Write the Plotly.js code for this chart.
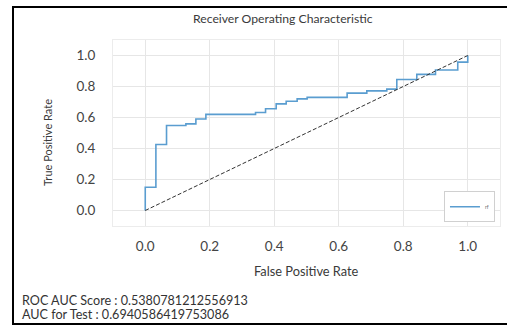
<!DOCTYPE html>
<html>
<head>
<meta charset="utf-8">
<script src="https://cdn.plot.ly/plotly-3.0.1.min.js"></script>
<style>
html,body{margin:0;padding:0;background:#fff;overflow:hidden;}
#chart{width:507px;height:325px;position:absolute;left:0;top:0;}
#frame{position:absolute;left:12px;top:6px;width:520px;height:315px;border-left:2px solid #000;border-top:2px solid #000;border-bottom:2px solid #000;pointer-events:none;}
</style>
</head>
<body>
<div id="chart"></div>
<div id="frame"></div>
<script>
// ROC curve corner points (step drawn horizontal-then-vertical)
const fpr = [0, 0, 0.033, 0.066, 0.126, 0.157, 0.188, 0.342, 0.373, 0.406, 0.437, 0.471, 0.502, 0.626, 0.687, 0.749, 0.78, 0.842, 0.9, 0.969, 1.0];
const tpr = [0, 0.15, 0.426, 0.548, 0.559, 0.59, 0.62, 0.632, 0.656, 0.688, 0.705, 0.72, 0.73, 0.757, 0.772, 0.783, 0.845, 0.878, 0.906, 0.957, 1.0];
const diagX = [0, 1];
const diagY = [0, 1];
const tickVals = [0, 0.2, 0.4, 0.6, 0.8, 1.0];
const tickText = ['0.0', '0.2', '0.4', '0.6', '0.8', '1.0'];
const seriesName = 'rf';
const chartTitle = 'Receiver Operating Characteristic';
const xTitle = 'False Positive Rate';
const yTitle = 'True Positive Rate';
const scoreLines = ['ROC AUC Score : 0.5380781212556913', 'AUC for Test : 0.6940586419753086'];

const FONT = 'Lato, "Open Sans", sans-serif';

const traces = [
  {x: fpr, y: tpr, type: 'scatter', mode: 'lines', name: seriesName,
   line: {color: '#5a9dd0', width: 1.6, shape: 'hv'}, showlegend: true},
  {x: diagX, y: diagY, type: 'scatter', mode: 'lines', name: 'diag',
   line: {color: '#333', width: 1, dash: '4px,2px'}, showlegend: false}
];

const axisCommon = {
  range: [-0.1, 1.1], tickvals: tickVals, ticktext: tickText,
  showgrid: true, gridcolor: '#e6e6e6', gridwidth: 1,
  zeroline: false, showline: true, mirror: true, linecolor: '#ececec', linewidth: 1,
  ticks: '', tickfont: {family: FONT, size: 13.5, color: '#444'}, fixedrange: true
};

const layout = {
  width: 507, height: 325,
  margin: {l: 113, r: 7, t: 40, b: 99},
  paper_bgcolor: '#fff', plot_bgcolor: '#fff',
  xaxis: Object.assign({}, axisCommon, {ticklabelstandoff: 8}),
  yaxis: Object.assign({}, axisCommon, {ticklabelstandoff: 14}),
  showlegend: true,
  legend: {x: 0.987, y: 0.02, xanchor: 'right', yanchor: 'bottom',
    bordercolor: '#d0d0d0', borderwidth: 1, bgcolor: '#fff',
    font: {family: FONT, size: 5, color: '#666'}, itemwidth: 30},
  annotations: [
    {text: chartTitle, xref: 'paper', yref: 'paper', x: 0.439, y: 1.118, showarrow: false,
     xanchor: 'center', yanchor: 'middle', font: {family: FONT, size: 12.2, color: '#3a3a3a'}},
    {text: xTitle, xref: 'paper', yref: 'paper', x: 0.499, y: -0.242, showarrow: false,
     xanchor: 'center', yanchor: 'middle', font: {family: FONT, size: 12.8, color: '#3a3a3a'}},
    {text: yTitle, xref: 'paper', yref: 'paper', x: -0.168, y: 0.452, showarrow: false, textangle: -90,
     xanchor: 'center', yanchor: 'middle', font: {family: FONT, size: 11, color: '#3a3a3a'}},
    {text: scoreLines[0], xref: 'paper', yref: 'paper', x: -0.24, y: -0.398, showarrow: false,
     xanchor: 'left', yanchor: 'middle', font: {family: FONT, size: 12.6, color: '#333'}},
    {text: scoreLines[1], xref: 'paper', yref: 'paper', x: -0.24, y: -0.478, showarrow: false,
     xanchor: 'left', yanchor: 'middle', font: {family: FONT, size: 12.6, color: '#333'}}
  ]
};

Plotly.newPlot('chart', traces, layout, {displayModeBar: false, staticPlot: true});
</script>
</body>
</html>
